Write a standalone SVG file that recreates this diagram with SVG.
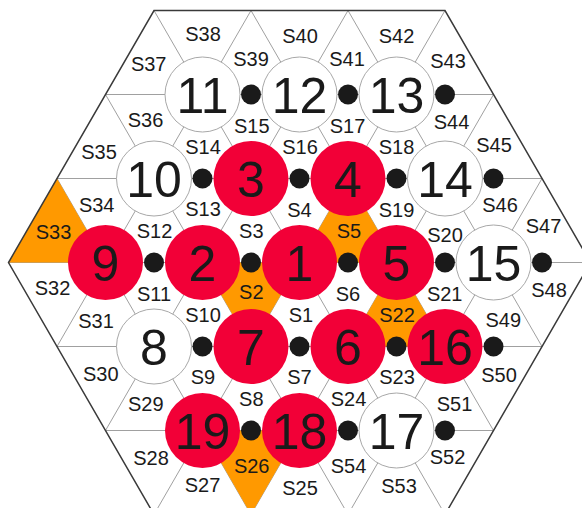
<svg xmlns="http://www.w3.org/2000/svg" width="582" height="508" viewBox="0 0 582 508">
<style>
.grid line{stroke:#a0a0a0;stroke-width:1}
.hex{fill:none;stroke:#3a3a3a;stroke-width:1.5}
.tri{fill:#FF9900;stroke:none}
.cw{fill:#ffffff;stroke:#a8a8a8;stroke-width:1}
.cr{fill:#F20037;stroke:none}
.num{font-family:"Liberation Sans",Arial,sans-serif;font-size:50px;fill:#1a1a1a;text-anchor:middle}
.lab{font-family:"Liberation Sans",Arial,sans-serif;font-size:20px;fill:#1a1a1a;text-anchor:middle}
.dot{fill:#1a1a1a}
</style>
<rect width="582" height="508" fill="#ffffff"/>
<g id="lattice" class="grid">
<line x1="105.5" y1="94.5" x2="493.5" y2="94.5"/>
<line x1="57" y1="178.5" x2="542" y2="178.5"/>
<line x1="8.5" y1="262.5" x2="590.5" y2="262.5"/>
<line x1="57" y1="346.5" x2="542" y2="346.5"/>
<line x1="105.5" y1="430.5" x2="493.5" y2="430.5"/>
<line x1="57" y1="346.5" x2="251" y2="10.5"/>
<line x1="105.5" y1="430.5" x2="348" y2="10.5"/>
<line x1="154" y1="514.5" x2="445" y2="10.5"/>
<line x1="251" y1="514.5" x2="493.5" y2="94.5"/>
<line x1="348" y1="514.5" x2="542" y2="178.5"/>
<line x1="57" y1="178.5" x2="251" y2="514.5"/>
<line x1="105.5" y1="94.5" x2="348" y2="514.5"/>
<line x1="154" y1="10.5" x2="445" y2="514.5"/>
<line x1="251" y1="10.5" x2="493.5" y2="430.5"/>
<line x1="348" y1="10.5" x2="542" y2="346.5"/>
</g>
<g id="highlighted">
<polygon class="tri" points="8.5,262.5 57,178.5 105.5,262.5"/>
<polygon class="tri" points="299.5,262.5 348,178.5 396.5,262.5"/>
<polygon class="tri" points="202.5,262.5 299.5,262.5 251,346.5"/>
<polygon class="tri" points="348,346.5 396.5,262.5 445,346.5"/>
<polygon class="tri" points="202.5,430.5 299.5,430.5 251,514.5"/>
</g>
<polygon id="border" class="hex" points="154,10.5 445,10.5 590.5,262.5 445,514.5 154,514.5 8.5,262.5"/>
<g id="connectors">
<circle class="dot" cx="251" cy="94.5" r="10"/>
<circle class="dot" cx="348" cy="94.5" r="10"/>
<circle class="dot" cx="445" cy="94.5" r="10"/>
<circle class="dot" cx="202.5" cy="178.5" r="10"/>
<circle class="dot" cx="299.5" cy="178.5" r="10"/>
<circle class="dot" cx="396.5" cy="178.5" r="10"/>
<circle class="dot" cx="493.5" cy="178.5" r="10"/>
<circle class="dot" cx="154" cy="262.5" r="10"/>
<circle class="dot" cx="251" cy="262.5" r="10"/>
<circle class="dot" cx="348" cy="262.5" r="10"/>
<circle class="dot" cx="445" cy="262.5" r="10"/>
<circle class="dot" cx="542" cy="262.5" r="10"/>
<circle class="dot" cx="202.5" cy="346.5" r="10"/>
<circle class="dot" cx="299.5" cy="346.5" r="10"/>
<circle class="dot" cx="396.5" cy="346.5" r="10"/>
<circle class="dot" cx="493.5" cy="346.5" r="10"/>
<circle class="dot" cx="251" cy="430.5" r="10"/>
<circle class="dot" cx="348" cy="430.5" r="10"/>
<circle class="dot" cx="445" cy="430.5" r="10"/>
</g>
<g id="n11"><circle class="cw" cx="202.5" cy="94.5" r="37.5"/><text class="num" x="202.5" y="112.5">11</text></g>
<g id="n12"><circle class="cw" cx="299.5" cy="94.5" r="37.5"/><text class="num" x="299.5" y="112.5">12</text></g>
<g id="n13"><circle class="cw" cx="396.5" cy="94.5" r="37.5"/><text class="num" x="396.5" y="112.5">13</text></g>
<g id="n10"><circle class="cw" cx="154" cy="178.5" r="37.5"/><text class="num" x="154" y="196.5">10</text></g>
<g id="n3"><circle class="cr" cx="251" cy="178.5" r="37.5"/><text class="num" x="251" y="196.5">3</text></g>
<g id="n4"><circle class="cr" cx="348" cy="178.5" r="37.5"/><text class="num" x="348" y="196.5">4</text></g>
<g id="n14"><circle class="cw" cx="445" cy="178.5" r="37.5"/><text class="num" x="445" y="196.5">14</text></g>
<g id="n9"><circle class="cr" cx="105.5" cy="262.5" r="37.5"/><text class="num" x="105.5" y="280.5">9</text></g>
<g id="n2"><circle class="cr" cx="202.5" cy="262.5" r="37.5"/><text class="num" x="202.5" y="280.5">2</text></g>
<g id="n1"><circle class="cr" cx="299.5" cy="262.5" r="37.5"/><text class="num" x="299.5" y="280.5">1</text></g>
<g id="n5"><circle class="cr" cx="396.5" cy="262.5" r="37.5"/><text class="num" x="396.5" y="280.5">5</text></g>
<g id="n15"><circle class="cw" cx="493.5" cy="262.5" r="37.5"/><text class="num" x="493.5" y="280.5">15</text></g>
<g id="n8"><circle class="cw" cx="154" cy="346.5" r="37.5"/><text class="num" x="154" y="364.5">8</text></g>
<g id="n7"><circle class="cr" cx="251" cy="346.5" r="37.5"/><text class="num" x="251" y="364.5">7</text></g>
<g id="n6"><circle class="cr" cx="348" cy="346.5" r="37.5"/><text class="num" x="348" y="364.5">6</text></g>
<g id="n16"><circle class="cr" cx="445" cy="346.5" r="37.5"/><text class="num" x="445" y="364.5">16</text></g>
<g id="n19"><circle class="cr" cx="202.5" cy="430.5" r="37.5"/><text class="num" x="202.5" y="448.5">19</text></g>
<g id="n18"><circle class="cr" cx="299.5" cy="430.5" r="37.5"/><text class="num" x="299.5" y="448.5">18</text></g>
<g id="n17"><circle class="cw" cx="396.5" cy="430.5" r="37.5"/><text class="num" x="396.5" y="448.5">17</text></g>
<g id="labels" class="lab">
<text x="148.7" y="71">S37</text>
<text x="203" y="40.7">S38</text>
<text x="251" y="65.7">S39</text>
<text x="300" y="43.3">S40</text>
<text x="347" y="65.7">S41</text>
<text x="396.5" y="43.3">S42</text>
<text x="448" y="68.3">S43</text>
<text x="99" y="159.3">S35</text>
<text x="145.5" y="126.7">S36</text>
<text x="203" y="154.3">S14</text>
<text x="251.8" y="132.7">S15</text>
<text x="300" y="154.3">S16</text>
<text x="347.5" y="132.7">S17</text>
<text x="396.5" y="154.3">S18</text>
<text x="451.5" y="129">S44</text>
<text x="494" y="151.7">S45</text>
<text x="53.5" y="238.7">S33</text>
<text x="96.7" y="211.7">S34</text>
<text x="154.5" y="237.7">S12</text>
<text x="203" y="215.7">S13</text>
<text x="251.3" y="237.7">S3</text>
<text x="299.5" y="216.7">S4</text>
<text x="349" y="237.7">S5</text>
<text x="396.5" y="216.7">S19</text>
<text x="445" y="241.7">S20</text>
<text x="500" y="211.7">S46</text>
<text x="543.5" y="233.3">S47</text>
<text x="52.5" y="295">S32</text>
<text x="96" y="327.7">S31</text>
<text x="154" y="300.7">S11</text>
<text x="203" y="321.7">S10</text>
<text x="251.3" y="299.3">S2</text>
<text x="301" y="321.7">S1</text>
<text x="348" y="300.7">S6</text>
<text x="397" y="321.7">S22</text>
<text x="444.7" y="300.7">S21</text>
<text x="503.3" y="327.3">S49</text>
<text x="549" y="296.7">S48</text>
<text x="100.8" y="380.7">S30</text>
<text x="145.8" y="411">S29</text>
<text x="203" y="384">S9</text>
<text x="251.3" y="406">S8</text>
<text x="299.5" y="384">S7</text>
<text x="348.5" y="406">S24</text>
<text x="397" y="384">S23</text>
<text x="454.5" y="411">S51</text>
<text x="499" y="382.3">S50</text>
<text x="151" y="465">S28</text>
<text x="202.5" y="491.7">S27</text>
<text x="251.7" y="473.3">S26</text>
<text x="300" y="495">S25</text>
<text x="348.5" y="472.7">S54</text>
<text x="399" y="493.3">S53</text>
<text x="447.5" y="464.3">S52</text>
</g>
</svg>
